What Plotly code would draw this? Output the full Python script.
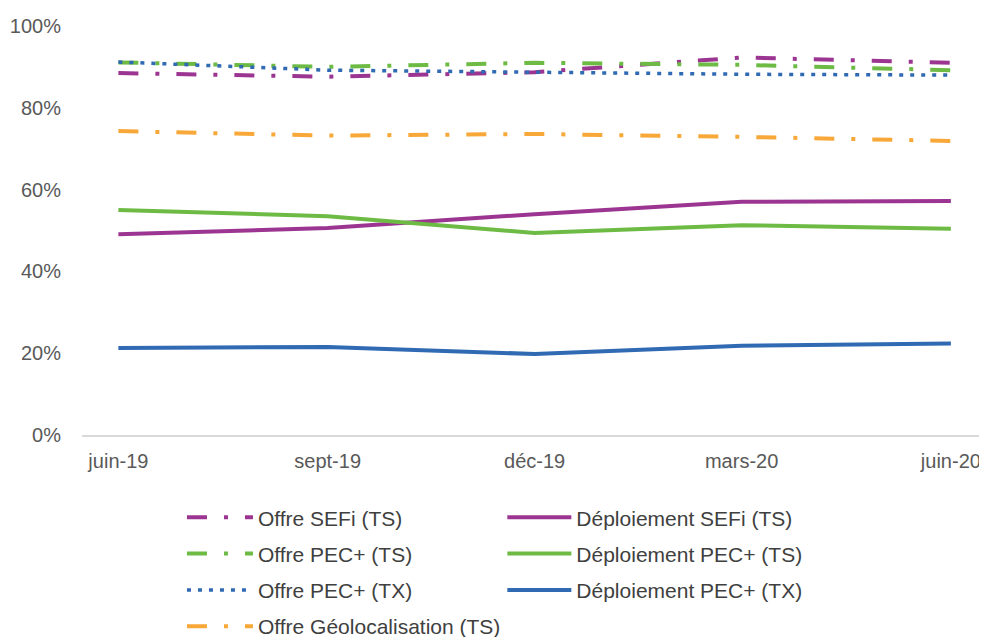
import plotly.graph_objects as go

# données (en %)
mois = ["2019-06-01", "2019-09-01", "2019-12-01", "2020-03-01", "2020-06-01"]
etiquettes = ["juin-19", "sept-19", "déc-19", "mars-20", "juin-20"]

offre_sefi_ts = [88.5, 87.6, 88.7, 92.3, 91.0]
offre_pec_ts = [91.1, 90.0, 91.0, 90.5, 89.2]
offre_pec_tx = [91.2, 89.2, 88.7, 88.2, 88.0]
offre_geoloc_ts = [74.3, 73.2, 73.6, 72.9, 71.9]
deploi_sefi_ts = [49.1, 50.6, 54.0, 57.0, 57.2]
deploi_pec_ts = [55.0, 53.5, 49.4, 51.3, 50.4]
deploi_pec_tx = [21.3, 21.5, 19.8, 21.8, 22.4]

VIOLET = "#9C3591"
VERT = "#6DBB45"
BLEU = "#2F6AB3"
ORANGE = "#F7A838"
TIRET_POINT = "20px,17px,4px,17px"

fig = go.Figure()


def ajoute(nom, valeurs, couleur, tiret, largeur, legende, groupe):
    fig.add_trace(go.Scatter(
        x=mois, y=[v / 100 for v in valeurs], name=nom, mode="lines",
        line=dict(color=couleur, width=largeur, dash=tiret),
        legend=legende, legendgroup=groupe,
    ))


# colonne de gauche
ajoute("Offre SEFi (TS)", offre_sefi_ts, VIOLET, TIRET_POINT, 4, "legend", "a")
ajoute("Offre PEC+ (TS)", offre_pec_ts, VERT, TIRET_POINT, 4, "legend", "b")
ajoute("Offre PEC+ (TX)", offre_pec_tx, BLEU, "4px,7px", 3.5, "legend", "c")
ajoute("Offre Géolocalisation (TS)", offre_geoloc_ts, ORANGE, TIRET_POINT, 4, "legend", "d")
# colonne de droite
ajoute("Déploiement SEFi (TS)", deploi_sefi_ts, VIOLET, "solid", 4, "legend2", "e")
ajoute("Déploiement PEC+ (TS)", deploi_pec_ts, VERT, "solid", 4, "legend2", "f")
ajoute("Déploiement PEC+ (TX)", deploi_pec_tx, BLEU, "solid", 4, "legend2", "g")

police_leg = dict(family="Liberation Sans, Arial, sans-serif", size=21, color="#404040")

# la page html garde une marge de 8 px autour du graphique
fig.update_layout(
    width=979, height=629,
    margin=dict(l=74, r=2, t=18, b=202, autoexpand=False),
    paper_bgcolor="white", plot_bgcolor="white",
    font=dict(family="Liberation Sans, Arial, sans-serif", size=20, color="#595959"),
    xaxis=dict(
        range=["2019-05-16", "2020-06-16"],
        tickvals=mois, ticktext=etiquettes, automargin=False,
        showgrid=False, showline=True, linecolor="#D9D9D9", linewidth=1.5,
        ticks="", ticklabelstandoff=7, zeroline=False,
    ),
    yaxis=dict(
        range=[0, 1], tickvals=[0, 0.2, 0.4, 0.6, 0.8, 1.0], tickformat=".0%",
        showgrid=False, zeroline=False, showline=False, ticks="",
        ticklabelstandoff=20, automargin=False,
    ),
    legend=dict(
        x=0.1107, y=-0.152, xanchor="left", yanchor="top", font=police_leg,
        traceorder="grouped", tracegroupgap=6, itemwidth=66,
    ),
    legend2=dict(
        x=0.4655, y=-0.152, xanchor="left", yanchor="top", font=police_leg,
        traceorder="grouped", tracegroupgap=6, itemwidth=64,
    ),
)

fig.write_html("out.html")
